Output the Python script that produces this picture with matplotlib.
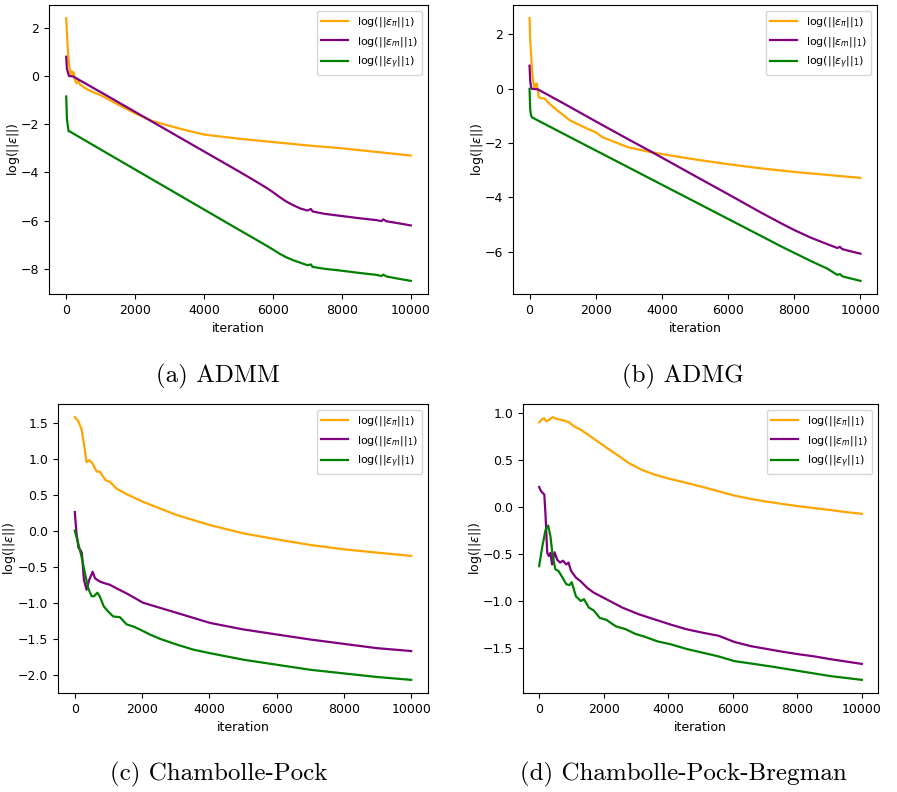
import matplotlib
matplotlib.use("Agg")
import matplotlib.pyplot as plt

# ---- data (iteration, log-error) ----
# (a) ADMM
admm_pi_x = [0, 30, 60, 100, 130, 160, 190, 220, 250, 300, 350, 400, 500, 600, 800, 1000, 1500,
             2000, 2500, 3000, 3500, 4000, 5000, 6000, 7000, 8000, 9000, 10000]
admm_pi_y = [2.4, 1.5, 0.8, 0.3, 0.1, 0.2, 0.05, 0.15, -0.15, -0.3, -0.2, -0.35, -0.45, -0.55, -0.68,
             -0.8, -1.18, -1.55, -1.87, -2.07, -2.26, -2.43, -2.6, -2.74, -2.88, -3.0, -3.15, -3.3]
admm_m_x = [0, 20, 50, 80, 200, 1000, 2000, 3000, 4000, 5000, 5500, 5800, 6000, 6200, 6400, 6600,
            6800, 7000, 7100, 7150, 7500, 8000, 8500, 9000, 9150, 9200, 9300, 9600, 10000]
admm_m_y = [0.8, 0.3, 0.15, 0.0, -0.02, -0.67, -1.49, -2.31, -3.13, -3.95, -4.37, -4.63, -4.82,
            -5.03, -5.22, -5.37, -5.5, -5.58, -5.52, -5.62, -5.72, -5.81, -5.9, -5.98, -6.02, -5.95,
            -6.03, -6.1, -6.2]
admm_y_x = [0, 20, 50, 70, 100, 1000, 2000, 3000, 4000, 5000, 5500, 5800, 6000, 6200, 6400, 6600,
            6800, 7000, 7100, 7150, 7500, 8000, 8500, 9000, 9150, 9200, 9300, 9600, 10000]
admm_y_y = [-0.85, -1.8, -2.1, -2.3, -2.3, -3.05, -3.88, -4.71, -5.54, -6.37, -6.78, -7.03, -7.2,
            -7.38, -7.53, -7.65, -7.75, -7.85, -7.82, -7.92, -8.0, -8.08, -8.17, -8.25, -8.3, -8.24,
            -8.32, -8.4, -8.5]

# (b) ADMG
admg_pi_x = [0, 20, 50, 80, 120, 150, 180, 210, 250, 280, 350, 450, 600, 840, 1000, 1230, 1500,
             1800, 2000, 2200, 2600, 2970, 3650, 4030, 5000, 6020, 7000, 8000, 9000, 10000]
admg_pi_y = [2.6, 1.8, 1.2, 0.6, 0.2, 0.05, 0.12, 0.2, -0.05, -0.3, -0.35, -0.35, -0.55, -0.8, -0.95,
             -1.17, -1.33, -1.5, -1.6, -1.78, -1.97, -2.15, -2.33, -2.41, -2.6, -2.78, -2.93, -3.06,
             -3.17, -3.28]
admg_m_x = [0, 20, 40, 60, 250, 1000, 2000, 3000, 3700, 5000, 6000, 7000, 7600, 8000, 8500, 9000,
            9300, 9380, 9450, 9600, 10000]
admg_m_y = [0.85, 0.3, 0.1, 0.0, -0.02, -0.52, -1.2, -1.87, -2.33, -3.21, -3.88, -4.56, -4.95,
            -5.2, -5.48, -5.72, -5.86, -5.82, -5.9, -5.95, -6.07]
admg_y_x = [0, 20, 40, 70, 1000, 2000, 3000, 4030, 5000, 6000, 7000, 7600, 8000, 8500, 9000, 9300,
            9380, 9450, 9600, 10000]
admg_y_y = [0.0, -0.75, -0.95, -1.05, -1.64, -2.27, -2.9, -3.55, -4.16, -4.79, -5.42, -5.8, -6.04,
            -6.34, -6.62, -6.85, -6.82, -6.9, -6.95, -7.07]

# (c) Chambolle-Pock
cp_pi_x = [0, 100, 200, 300, 350, 430, 530, 650, 740, 920, 1040, 1240, 1540, 2030, 3030, 4020, 5010,
           6000, 7000, 7990, 8980, 10000]
cp_pi_y = [1.576, 1.52, 1.41, 1.115, 0.95, 0.98, 0.93, 0.82, 0.82, 0.70, 0.68, 0.585, 0.507, 0.40,
           0.217, 0.078, -0.037, -0.12, -0.198, -0.258, -0.304, -0.35]
cp_m_x = [0, 50, 110, 170, 210, 270, 350, 430, 530, 600, 740, 890, 1040, 1240, 1540, 2030, 2530,
          3030, 4020, 5010, 6000, 7000, 7990, 8980, 10000]
cp_m_y = [0.26, -0.04, -0.24, -0.27, -0.31, -0.68, -0.82, -0.68, -0.57, -0.66, -0.705, -0.73, -0.75,
          -0.80, -0.87, -1.0, -1.07, -1.14, -1.28, -1.37, -1.44, -1.51, -1.57, -1.63, -1.67]
cp_y_x = [0, 100, 200, 300, 400, 500, 570, 670, 740, 860, 990, 1140, 1340, 1540, 1740, 1930, 2230,
          2530, 3030, 3520, 4020, 5010, 6000, 7000, 7990, 8980, 10000]
cp_y_y = [0.0, -0.175, -0.36, -0.59, -0.80, -0.91, -0.91, -0.86, -0.91, -1.05, -1.12, -1.19, -1.20,
          -1.30, -1.33, -1.37, -1.44, -1.50, -1.58, -1.65, -1.70, -1.79, -1.86, -1.93, -1.98, -2.03,
          -2.07]

# (d) Chambolle-Pock-Bregman
cpb_pi_x = [0, 100, 150, 220, 300, 420, 550, 740, 910, 1090, 1290, 1590, 1880, 2180, 2480, 2780,
            3170, 3570, 4070, 4560, 5060, 5560, 6050, 6550, 7040, 7540, 8040, 8530, 9030, 9520, 10000]
cpb_pi_y = [0.904, 0.94, 0.95, 0.915, 0.93, 0.96, 0.94, 0.926, 0.908, 0.86, 0.826, 0.755, 0.684,
            0.613, 0.543, 0.47, 0.40, 0.348, 0.30, 0.26, 0.216, 0.17, 0.124, 0.089, 0.06, 0.035, 0.01,
            -0.01, -0.03, -0.053, -0.07]
cpb_m_x = [0, 60, 160, 200, 250, 300, 350, 400, 480, 560, 650, 740, 840, 910, 990, 1140, 1290, 1490,
           1690, 2080, 2580, 3080, 3570, 4070, 4560, 5060, 5560, 6050, 6550, 7040, 7540, 8040, 8530,
           9030, 9520, 10000]
cpb_m_y = [0.216, 0.17, 0.135, -0.096, -0.486, -0.52, -0.486, -0.61, -0.48, -0.56, -0.59, -0.57,
           -0.61, -0.59, -0.68, -0.75, -0.79, -0.86, -0.91, -0.98, -1.07, -1.14, -1.195, -1.25, -1.30,
           -1.337, -1.37, -1.436, -1.48, -1.51, -1.54, -1.567, -1.59, -1.62, -1.645, -1.67]
cpb_y_x = [0, 100, 200, 280, 350, 420, 500, 600, 690, 840, 940, 1010, 1140, 1290, 1390, 1540, 1690,
           1880, 2080, 2380, 2680, 2980, 3270, 3670, 4070, 4560, 5060, 5560, 6050, 6550, 7240, 8040,
           9030, 10000]
cpb_y_y = [-0.628, -0.415, -0.24, -0.195, -0.31, -0.52, -0.66, -0.68, -0.73, -0.82, -0.83, -0.80,
           -0.95, -1.0, -0.98, -1.07, -1.10, -1.18, -1.20, -1.27, -1.30, -1.35, -1.38, -1.43, -1.46,
           -1.51, -1.55, -1.59, -1.64, -1.665, -1.70, -1.745, -1.80, -1.84]

captions = ["(a) ADMM", "(b) ADMG", "(c) Chambolle-Pock", "(d) Chambolle-Pock-Bregman"]
labels = [r"log($||\epsilon_\pi||_1$)", r"log($||\epsilon_m||_1$)", r"log($||\epsilon_\gamma||_1$)"]
colors = ["orange", "purple", "green"]

panels = [
    [(admm_pi_x, admm_pi_y), (admm_m_x, admm_m_y), (admm_y_x, admm_y_y)],
    [(admg_pi_x, admg_pi_y), (admg_m_x, admg_m_y), (admg_y_x, admg_y_y)],
    [(cp_pi_x, cp_pi_y), (cp_m_x, cp_m_y), (cp_y_x, cp_y_y)],
    [(cpb_pi_x, cpb_pi_y), (cpb_m_x, cpb_m_y), (cpb_y_x, cpb_y_y)],
]

W, H = 897, 792
# axes boxes in pixels: left, top, right, bottom
boxes = [(49, 5, 428, 294), (513, 5, 877, 294), (58, 404, 428, 693), (523, 404, 878, 693)]
ylabel_x = [13, 478, 10, 475]
caption_pos = [(218, 376), (683, 376), (219, 774), (683, 774)]

fig = plt.figure(figsize=(W / 100, H / 100), dpi=100)

for series, box, yx, cap, cpos in zip(panels, boxes, ylabel_x, captions, caption_pos):
    l, t, r, b = box
    ax = fig.add_axes([l / W, 1 - b / H, (r - l) / W, (b - t) / H])
    for (xs, ys), lab, col in zip(series, labels, colors):
        ax.plot(xs, ys, color=col, lw=1.6, label=lab)
    ax.set_xticks([0, 2000, 4000, 6000, 8000, 10000])
    ax.tick_params(labelsize=9)
    ax.set_xlabel("iteration", fontsize=9)
    ax.set_ylabel(r"log($||\epsilon||$)", fontsize=9, va="center")
    ax.yaxis.set_label_coords((yx - l) / (r - l), 0.5)
    ax.legend(loc="upper right", fontsize=8, handlelength=2.4)
    fig.text(cpos[0] / W, 1 - cpos[1] / H, cap, family="cmr10", fontsize=18,
             ha="center", va="center")

fig.savefig("out.png", dpi=100)
